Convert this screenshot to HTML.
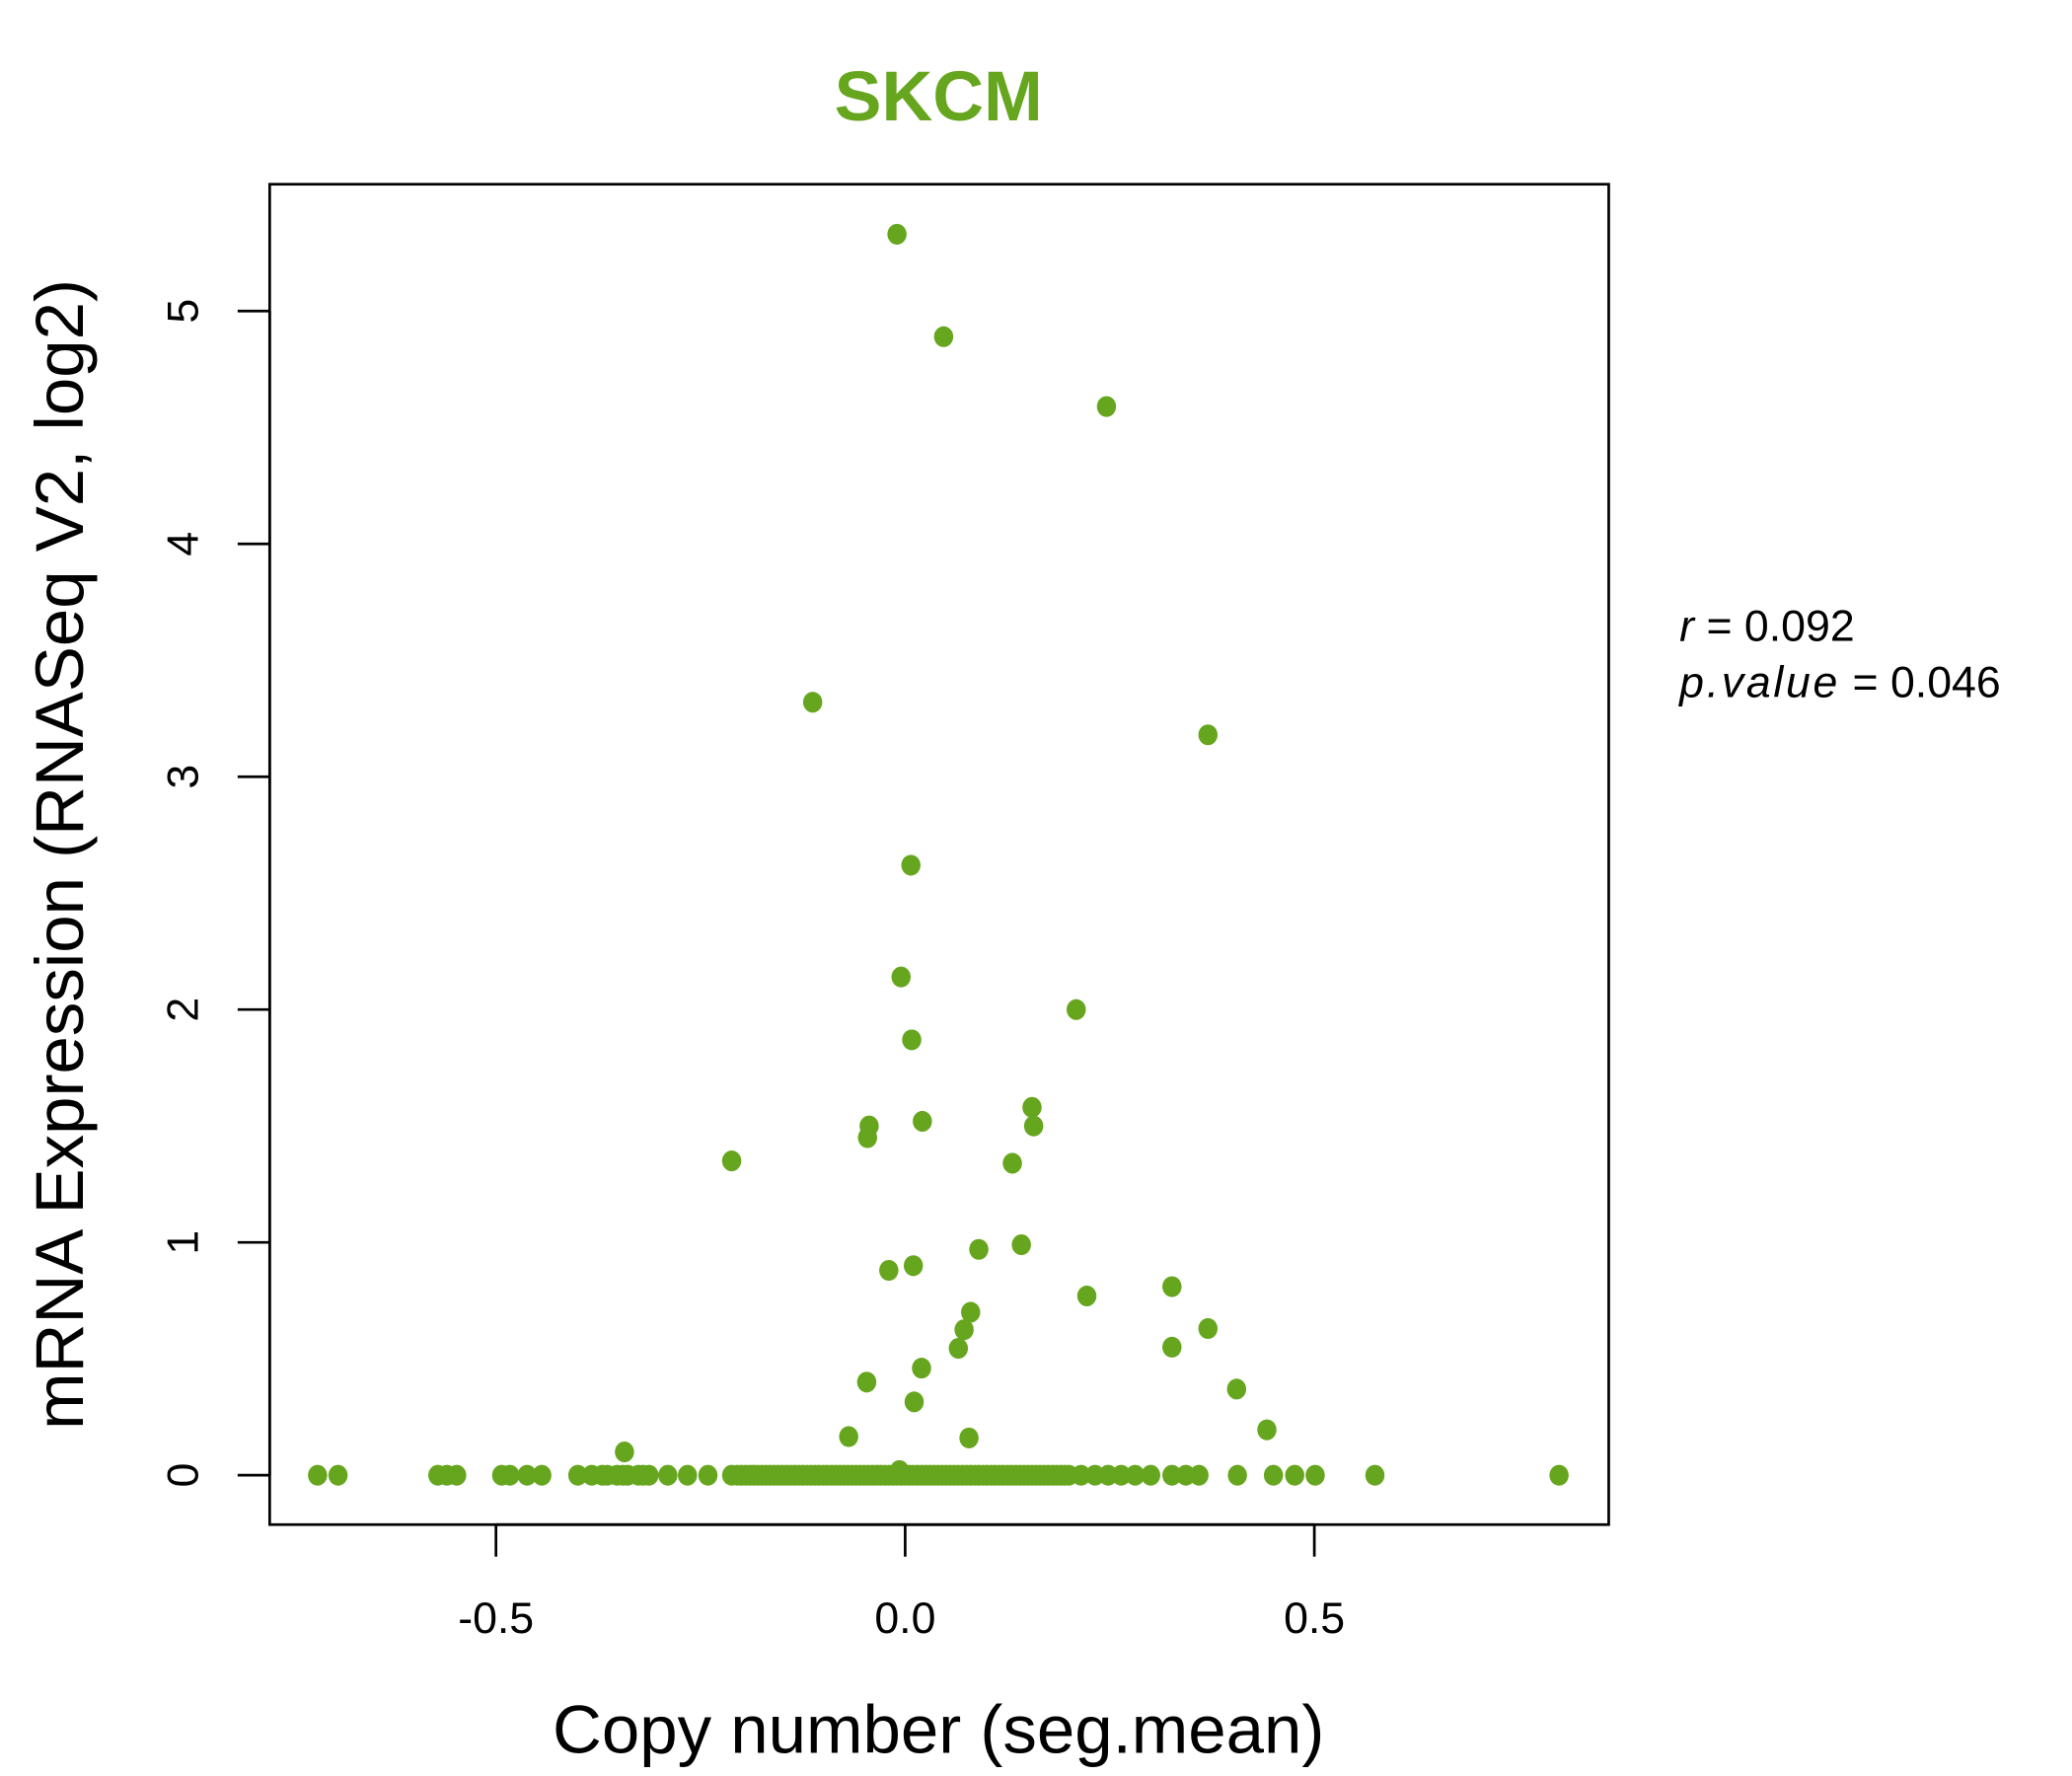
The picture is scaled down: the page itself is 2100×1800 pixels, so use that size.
<!DOCTYPE html>
<html><head><meta charset="utf-8"><style>html,body{margin:0;padding:0;background:#fff;}svg{display:block;}</style></head>
<body>
<svg id="chart" width="2100" height="1800" viewBox="0 0 1552 1330.3" xmlns="http://www.w3.org/2000/svg" font-family="Liberation Sans, sans-serif">
<rect width="1552" height="1330.3" fill="#fff"/>
<text x="703" y="90" text-anchor="middle" font-size="53" font-weight="bold" fill="#66a61e">SKCM</text>
<rect x="202" y="138" width="1003" height="1004" fill="none" stroke="#000" stroke-width="2"/>
<g id="xaxis"></g>
<g id="yaxis"></g>
<g id="points"></g>
<text x="703" y="1313" text-anchor="middle" font-size="51">Copy number (seg.mean)</text>
<text transform="translate(62,640) rotate(-90)" text-anchor="middle" font-size="51">mRNA Expression (RNASeq V2, log2)</text>
<text x="1258" y="480" font-size="33"><tspan font-style="italic">r</tspan> = 0.092</text>
<text x="1258" y="522" font-size="33"><tspan font-style="italic" letter-spacing="2">p.value</tspan> = 0.046</text>
</svg>
<script>
const xTicks = [-0.5, 0.0, 0.5];
const xTickLabels = ["-0.5", "0.0", "0.5"];
const yTicks = [0, 1, 2, 3, 4, 5];
const yTickLabels = ["0", "1", "2", "3", "4", "5"];
const xValues = [-0.010,0.047,0.246,-0.113,0.370,0.007,-0.005,0.209,0.008,-0.044,-0.046,0.021,0.155,0.157,-0.212,0.131,0.142,0.090,0.010,-0.020,0.222,0.326,0.370,0.080,0.072,0.065,0.326,0.020,-0.047,0.405,0.011,0.442,-0.069,0.078,-0.343,-0.007,
-0.718,-0.693,-0.571,-0.560,-0.548,-0.493,-0.483,-0.462,-0.444,-0.400,-0.383,-0.364,-0.352,-0.339,-0.326,-0.313,-0.290,-0.266,-0.241,
-0.212,-0.200,-0.190,-0.180,-0.170,-0.160,-0.150,-0.140,-0.130,-0.120,-0.110,-0.100,-0.090,-0.080,-0.070,-0.060,-0.050,-0.040,-0.030,-0.020,-0.010,0.000,0.010,0.020,0.030,0.040,0.050,0.060,0.070,0.080,0.090,0.100,0.110,0.120,0.130,0.140,0.150,0.160,0.170,0.180,0.190,0.200,
-0.205,-0.195,-0.185,-0.175,-0.165,-0.155,-0.145,-0.135,-0.125,-0.115,-0.105,-0.095,-0.085,-0.075,-0.065,-0.055,-0.045,-0.035,-0.025,-0.015,-0.005,0.005,0.015,0.025,0.035,0.045,0.055,0.065,0.075,0.085,0.095,0.105,0.115,0.125,0.135,0.145,0.155,0.165,0.175,0.185,0.195,-0.370,-0.345,-0.320,
0.215,0.232,0.248,0.264,0.281,0.300,0.326,0.343,0.359,0.406,0.450,0.476,0.501,0.574,0.799];
const yValues = [5.33,4.89,4.59,3.32,3.18,2.62,2.14,2.00,1.87,1.50,1.45,1.52,1.58,1.50,1.35,1.34,0.99,0.97,0.90,0.88,0.77,0.81,0.63,0.70,0.625,0.545,0.55,0.46,0.40,0.37,0.315,0.195,0.166,0.16,0.10,0.02,
0,0,0,0,0,0,0,0,0,0,0,0,0,0,0,0,0,0,0,
0,0,0,0,0,0,0,0,0,0,0,0,0,0,0,0,0,0,0,0,0,0,0,0,0,0,0,0,0,0,0,0,0,0,0,0,0,0,0,0,0,0,
0,0,0,0,0,0,0,0,0,0,0,0,0,0,0,0,0,0,0,0,0,0,0,0,0,0,0,0,0,0,0,0,0,0,0,0,0,0,0,0,0,0,0,0,
0,0,0,0,0,0,0,0,0,0,0,0,0,0,0];
const NS = "http://www.w3.org/2000/svg";
const X0 = 678, XS = 613, Y0 = 1105, YS = 174.4;
function xScale(v){ return X0 + v * XS; }
function yScale(v){ return Y0 - v * YS; }
const xg = document.getElementById('xaxis');
const yg = document.getElementById('yaxis');
function mk(tag, attrs, parent){ const e = document.createElementNS(NS, tag); for (const k in attrs) e.setAttribute(k, attrs[k]); parent.appendChild(e); return e; }
const xl = mk('line', {x1: xScale(xTicks[0]), x2: xScale(xTicks[xTicks.length-1]), y1: 1142, y2: 1142, stroke: '#000', 'stroke-width': 2}, xg);


xTicks.forEach((t, i) => {
  const tk = mk('line', {x1: xScale(t), x2: xScale(t), y1: 1142, y2: 1166, stroke: '#000', 'stroke-width': 2}, xg);
  
  
  const tx = mk('text', {x: xScale(t), y: 1223, 'text-anchor': 'middle', 'font-size': 33}, xg);
  
  
  tx.textContent = xTickLabels[i];
});
const yl = mk('line', {x1: 202, x2: 202, y1: yScale(yTicks[0]), y2: yScale(yTicks[yTicks.length-1]), stroke: '#000', 'stroke-width': 2}, yg);


yTicks.forEach((t, i) => {
  const tk = mk('line', {x1: 178, x2: 202, y1: yScale(t), y2: yScale(t), stroke: '#000', 'stroke-width': 2}, yg);
  
  
  const tx = mk('text', {transform: 'translate(148,' + yScale(t) + ') rotate(-90)', 'text-anchor': 'middle', 'font-size': 33}, yg);
  
  
  tx.textContent = yTickLabels[i];
});
const pg = document.getElementById('points');
xValues.forEach((v, i) => {
  const c = mk('ellipse', {cx: xScale(v), cy: yScale(yValues[i]), rx: 7.2, ry: 7.8, fill: '#66a61e'}, pg);
  
  
});
</script>
</body></html>
